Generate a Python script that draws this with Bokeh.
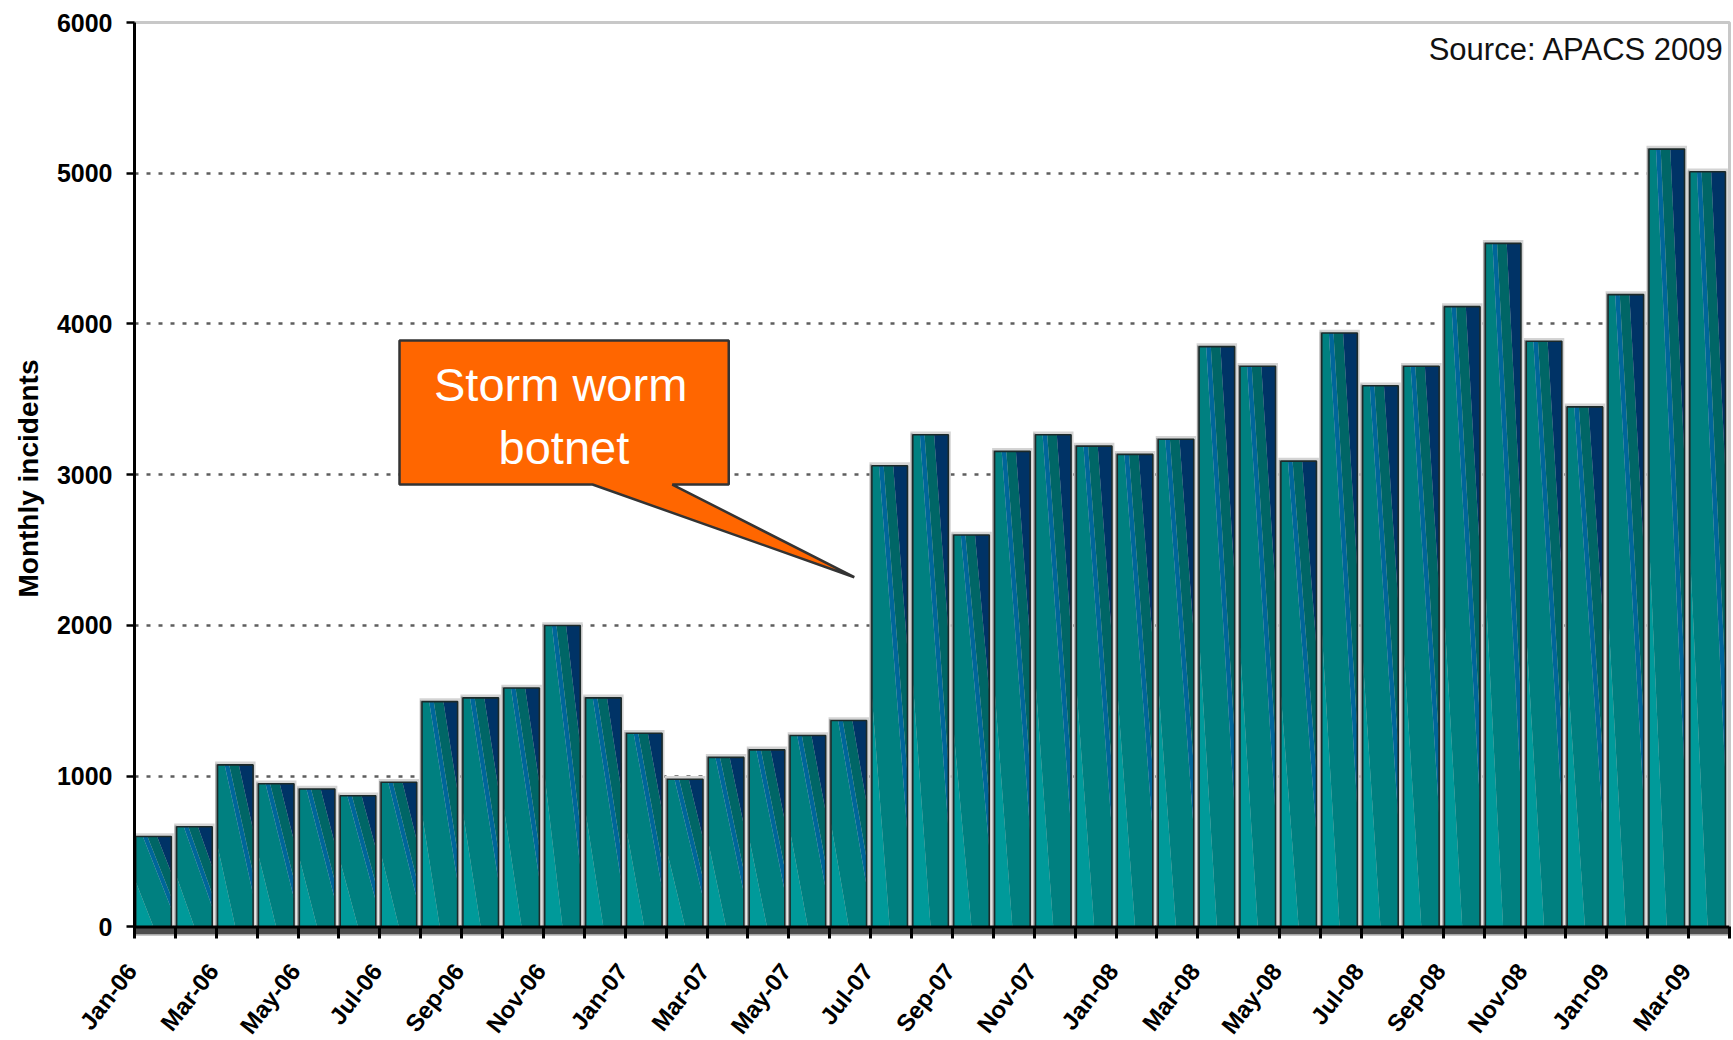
import math
from bokeh.plotting import figure
from bokeh.models import FixedTicker, Span
from bokeh.core.properties import value
from bokeh.embed import file_html
from bokeh.resources import INLINE

# ---------------- data ----------------
months = ["Jan-06", "Feb-06", "Mar-06", "Apr-06", "May-06", "Jun-06",
          "Jul-06", "Aug-06", "Sep-06", "Oct-06", "Nov-06", "Dec-06",
          "Jan-07", "Feb-07", "Mar-07", "Apr-07", "May-07", "Jun-07",
          "Jul-07", "Aug-07", "Sep-07", "Oct-07", "Nov-07", "Dec-07",
          "Jan-08", "Feb-08", "Mar-08", "Apr-08", "May-08", "Jun-08",
          "Jul-08", "Aug-08", "Sep-08", "Oct-08", "Nov-08", "Dec-08",
          "Jan-09", "Feb-09", "Mar-09"]
incidents = [600, 665, 1075, 950, 915, 870, 960, 1495, 1520, 1585, 2000, 1520,
             1285, 980, 1125, 1175, 1270, 1370, 3060, 3265, 2600, 3155, 3265, 3190,
             3135, 3235, 3850, 3720, 3090, 3940, 3590, 3720, 4115, 4535, 3885, 3450,
             4195, 5160, 5010]
y_ticks = [0, 1000, 2000, 3000, 4000, 5000, 6000]
y_title = "Monthly incidents"
source_note = "Source: APACS 2009"
callout_lines = ["Storm worm", "botnet"]

# ---------------- figure ----------------
n = len(months)
Y_MIN = -50
p = figure(width=1732, height=1040, output_backend="svg", toolbar_location=None,
           x_range=(0, n), y_range=(Y_MIN, 6000),
           min_border_left=134, min_border_right=3, min_border_top=22, min_border_bottom=106)
p.background_fill_color = "white"
p.border_fill_color = "white"
p.outline_line_color = "#c8c8c8"
p.outline_line_width = 3

p.xgrid.visible = False
p.ygrid.ticker = FixedTicker(ticks=y_ticks)
p.ygrid.grid_line_color = "#5e5e5e"
p.ygrid.grid_line_width = 2.5
p.ygrid.grid_line_dash = "4 8"

# floor band under the bars
p.quad(left=[0], right=[n], bottom=[Y_MIN], top=[0], fill_color="#4d4d4d", line_color=None)

# ---------------- bars ----------------
BW = 0.87
lefts = [i + 0.03 for i in range(n)]
rights = [l + BW for l in lefts]

# light halo / shadow
p.quad(left=[l - 0.06 for l in lefts], right=[r + 0.06 for r in rights], bottom=0,
       top=[v + 22 for v in incidents], fill_color="#d4d4d4", line_color=None)
p.quad(left=[l - 0.05 for l in lefts], right=lefts, bottom=0,
       top=[v + 8 for v in incidents], fill_color="#9a9a9a", line_color=None)


def clip(poly, a, b, c):
    # keep a*u + b*v + c >= 0
    out = []
    m = len(poly)
    for k in range(m):
        P = poly[k]
        Q = poly[(k + 1) % m]
        fp = a * P[0] + b * P[1] + c
        fq = a * Q[0] + b * Q[1] + c
        if fp >= 0:
            out.append(P)
        if (fp >= 0) != (fq >= 0):
            t = fp / (fp - fq)
            out.append((P[0] + t * (Q[0] - P[0]), P[1] + t * (Q[1] - P[1])))
    return out


bands = [(-9, 0.5, "#009a9a"), (0.5, 1.2, "#008080"), (1.2, 1.33, "#00669a"),
         (1.33, 1.6, "#006666"), (1.6, 9, "#003366")]
for g1, g2, col in bands:
    xs, ys = [], []
    for l, v in zip(lefts, incidents):
        poly = [(0, 0), (1, 0), (1, 1), (0, 1)]
        poly = clip(poly, 1, 1, -g1)
        poly = clip(poly, -1, -1, g2)
        if len(poly) < 3:
            continue
        xs.append([l + u * BW for u, _ in poly])
        ys.append([w * v for _, w in poly])
    if xs:
        p.patches(xs=xs, ys=ys, fill_color=col, line_color=None)

p.quad(left=lefts, right=rights, bottom=0, top=incidents, fill_color=None,
       line_color="#1c2a2a", line_width=1.6)

p.add_layout(Span(location=0, dimension="width", line_color="black", line_width=3))

# ---------------- callout ----------------
bx0, bx1, by0, by1 = 6.48, 14.53, 2935, 3890
pb1, pb2, tipx, tipy = 11.2, 13.15, 17.6, 2320
p.patch(x=[bx0, bx1, bx1, pb2, tipx, pb1, bx0], y=[by1, by1, by0, by0, tipy, by0, by0],
        fill_color="#ff6600", line_color="#333333", line_width=2.5)
p.text(x=[10.42, 10.5], y=[3598, 3180], text=callout_lines, text_color="white",
       text_font=value("Liberation Sans"), text_font_size="47px",
       text_align="center", text_baseline="alphabetic")

p.text(x=[n], y=[5821], text=[source_note], x_offset=-5, text_color="#111111",
       text_font=value("Liberation Sans"), text_font_size="31px",
       text_align="right", text_baseline="alphabetic")

# ---------------- x tick labels (drawn below the frame) ----------------
lab_x = [i for i in range(0, n, 2)]
lab_t = [months[i] for i in range(0, n, 2)]
p.text(x=lab_x, y=[Y_MIN] * len(lab_x), text=lab_t, angle=math.radians(52),
       x_offset=-3, y_offset=32, text_align="right", text_baseline="middle",
       text_font=value("Liberation Sans"), text_font_style="bold",
       text_font_size="24px", text_color="black", level="overlay")

# ---------------- axes ----------------
xa = p.xaxis[0]
xa.ticker = FixedTicker(ticks=list(range(n + 1)))
xa.major_label_overrides = {i: "" for i in range(n + 1)}
xa.major_label_text_font_size = "1px"
xa.major_label_standoff = 0
xa.axis_line_color = None
xa.major_tick_in = 8
xa.major_tick_out = 4
xa.major_tick_line_width = 3
xa.major_tick_line_color = "black"
xa.minor_tick_line_color = None

ya = p.yaxis[0]
ya.ticker = FixedTicker(ticks=y_ticks)
ya.axis_line_color = "black"
ya.axis_line_width = 3
ya.major_tick_out = 8
ya.major_tick_in = 0
ya.major_tick_line_width = 2.5
ya.major_tick_line_color = "black"
ya.minor_tick_line_color = None
ya.major_label_standoff = 14
ya.major_label_text_font = "Liberation Sans"
ya.major_label_text_font_style = "bold"
ya.major_label_text_font_size = "25px"
ya.major_label_text_color = "black"
ya.axis_label = y_title
ya.axis_label_text_font = "Liberation Sans"
ya.axis_label_text_font_style = "bold"
ya.axis_label_text_font_size = "28px"
ya.axis_label_text_color = "black"
ya.axis_label_standoff = 10

open("out.html", "w").write(file_html(p, INLINE))
